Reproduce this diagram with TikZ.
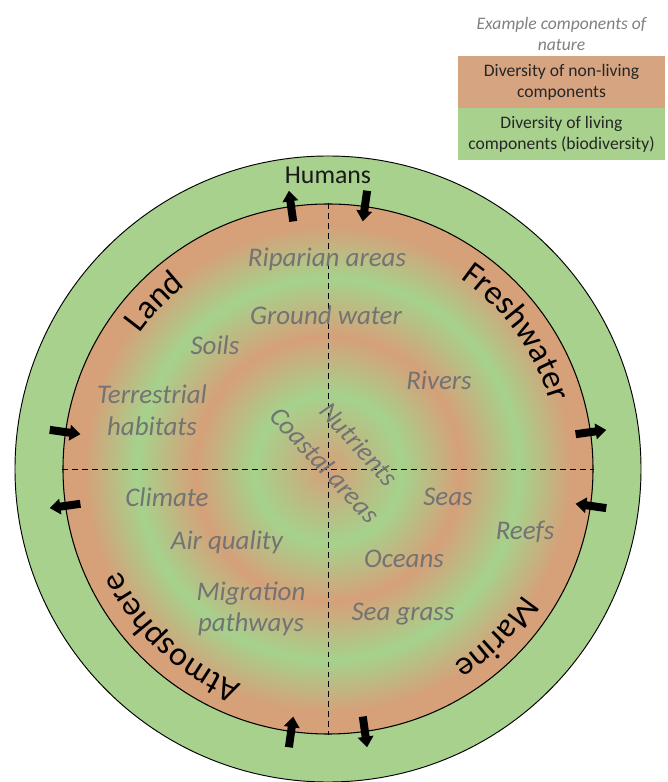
\documentclass[tikz,border=0pt]{standalone}
\usepackage{fontspec}
\setmainfont{Carlito}
\usetikzlibrary{arrows.meta,positioning,decorations.text}

\definecolor{soilbrown}{RGB}{214,164,128}
\definecolor{leafgreen}{RGB}{169,209,142}
\definecolor{ringorange}{RGB}{214,160,121}
\definecolor{ringgreen}{RGB}{165,210,140}
\definecolor{itemgray}{RGB}{115,115,115}

\pgfdeclareradialshading{rings}{\pgfpoint{0bp}{0bp}}{%
  color(0bp)=(ringorange);
  color(7bp)=(ringgreen);
  color(12.5bp)=(ringorange);
  color(18bp)=(ringgreen);
  color(23bp)=(ringorange);
  color(50bp)=(ringorange)}

\newcommand{\itemfont}{\fontsize{23}{27}\selectfont\itshape}
\newcommand{\ringfont}{\fontsize{29}{34}\selectfont}
\newcommand{\legendfont}{\fontsize{15}{18}\selectfont}

\begin{document}
\begin{tikzpicture}[x=0.3mm,y=0.3mm,
    item/.style={font=\itemfont,text=itemgray,align=center},
    flow/.style={line width=2.4mm,-{Triangle[length=3.2mm,width=4.6mm]}},
    axis line/.style={dash pattern=on 5pt off 3.5pt,line width=0.6pt},
    legend box/.style={minimum width=62.1mm,minimum height=15.6mm,inner sep=0pt,font=\legendfont,align=center,text=black!85},
    ring label/.style={decorate,decoration={text along path,text align=center,text={|\ringfont|#1}}}]

    \useasboundingbox (-328,-313) rectangle (339,469);

    \node[circle,draw,line width=0.8pt,fill=leafgreen,minimum size=187.8mm,inner sep=0pt] (outer) at (0,0) {};
    \node[circle,draw,line width=0.9pt,shade,shading=rings,minimum size=159mm,inner sep=0pt] (inner) at (0,0) {};

    \draw[axis line] (inner.north) -- (inner.south);
    \draw[axis line] (inner.west) -- (inner.east);

    % exchanges across the boundary
    \coordinate (top out s) at (98:250);   \coordinate (top out e) at (98:281);
    \coordinate (top in s) at (82:281);    \coordinate (top in e) at (82:250);
    \coordinate (right out s) at (8:250);  \coordinate (right out e) at (8:281);
    \coordinate (right in s) at (-8:281);  \coordinate (right in e) at (-8:250);
    \coordinate (bottom in s) at (262:281); \coordinate (bottom in e) at (262:250);
    \coordinate (bottom out s) at (278:250); \coordinate (bottom out e) at (278:281);
    \coordinate (left in s) at (172:281);  \coordinate (left in e) at (172:250);
    \coordinate (left out s) at (188:250); \coordinate (left out e) at (188:281);

    \path[flow]
        (top out s) edge (top out e)
        (top in s) edge (top in e)
        (right out s) edge (right out e)
        (right in s) edge (right in e)
        (bottom in s) edge (bottom in e)
        (bottom out s) edge (bottom out e)
        (left in s) edge (left in e)
        (left out s) edge (left out e)
    ;

    \path[ring label=Land] (176:232) arc[start angle=176,end angle=96,radius=232];
    \path[ring label=Freshwater] (76:232) arc[start angle=76,end angle=-4,radius=232];
    \path[ring label=Marine] (-5:232) arc[start angle=-5,end angle=-85,radius=232];
    \path[ring label=Atmosphere] (267:232) arc[start angle=267,end angle=187,radius=232];

    \node[font=\fontsize{22}{26}\selectfont,text=black!90] (humans) at (0,294) {Humans};

    \node[item] (riparian) at (-1,210) {Riparian areas};
    \node[item] (groundwater) at (-2,154) {Ground water};
    \node[item] (soils) at (-113,124) {Soils};
    \node[item] (rivers) at (111,89) {Rivers};
    \node[item] (terrestrial) at (-176,59) {Terrestrial\\habitats};
    \node[item,rotate=-48] (nutrients) at (31,25) {Nutrients};
    \node[item,rotate=-47] (coastal) at (-3,4) {Coastal areas};
    \node[item] (climate) at (-161,-28) {Climate};
    \node[item] (seas) at (120,-28) {Seas};
    \node[item] (reefs) at (197,-63) {Reefs};
    \node[item] (air) at (-101,-73) {Air quality};
    \node[item] (oceans) at (76,-90) {Oceans};
    \node[item] (migration) at (-77,-140) {Migration\\pathways};
    \node[item] (seagrass) at (75,-145) {Sea grass};

    % key
    \node[legend box,fill=soilbrown] (nonliving) at (233.5,387) {Diversity of non-living\\components};
    \node[legend box,fill=leafgreen,below=0pt of nonliving] (living) {Diversity of living\\components (biodiversity)};
    \node[font=\legendfont\itshape,text=gray,align=center,above=1pt of nonliving] (key title) {Example components of\\nature};
\end{tikzpicture}
\end{document}
